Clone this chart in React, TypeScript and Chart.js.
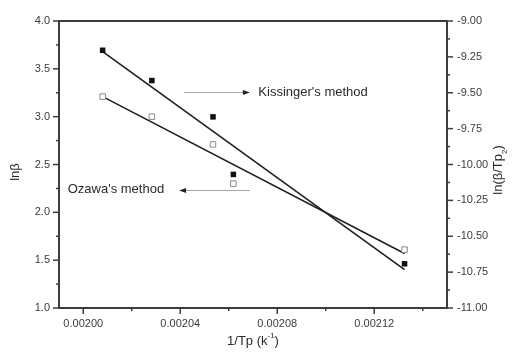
import { useEffect, useRef } from "react";
import { Chart, registerables } from "chart.js";

Chart.register(...registerables);

// 1/Tp values (K^-1) for the five heating rates
const invTp = [0.002008, 0.0020283, 0.0020535, 0.0020619, 0.0021325];
// Ozawa: ln(beta), left axis
const lnBeta = [3.21, 3.0, 2.71, 2.3, 1.61];
// Kissinger: ln(beta/Tp^2), right axis
const lnBetaTp2 = [-9.204, -9.415, -9.668, -10.069, -10.692];

// Axis ticks
const xTicks = [0.002, 0.00204, 0.00208, 0.00212];
const xMinorTicks = [0.00202, 0.00206, 0.0021, 0.00214];
const yLeftTicks = [1.0, 1.5, 2.0, 2.5, 3.0, 3.5, 4.0];
const yLeftMinorTicks = [1.25, 1.75, 2.25, 2.75, 3.25, 3.75];
const yRightTicks = [-11, -10.75, -10.5, -10.25, -10, -9.75, -9.5, -9.25, -9];
const yRightMinorTicks = [-10.875, -10.625, -10.375, -10.125, -9.875, -9.625, -9.375, -9.125];

// Annotation anchors in data units (x, left-axis y)
const kissingerArrow = { from: 0.0020415, to: 0.0020687, y: 3.258 };
const kissingerLabel = { x: 0.0020722, y: 3.25, text: "Kissinger's method" };
const ozawaArrow = { from: 0.0020687, to: 0.0020395, y: 2.232 };
const ozawaLabel = { x: 0.0019936, y: 2.24, text: "Ozawa's method" };

const FONT = '"Liberation Sans", Arial, Helvetica, sans-serif';
const AXIS_COLOR = "#3c3c3c";
const TEXT_COLOR = "#2a2a2a";

// Least-squares line through a series, evaluated at the first and last x
function fitLine(xs: number[], ys: number[]) {
  const n = xs.length;
  const mx = xs.reduce((a, b) => a + b, 0) / n;
  const my = ys.reduce((a, b) => a + b, 0) / n;
  let sxy = 0;
  let sxx = 0;
  for (let i = 0; i < n; i++) {
    sxy += (xs[i] - mx) * (ys[i] - my);
    sxx += (xs[i] - mx) * (xs[i] - mx);
  }
  const slope = sxy / sxx;
  const x0 = Math.min(...xs);
  const x1 = Math.max(...xs);
  return [
    { x: x0, y: my + slope * (x0 - mx) },
    { x: x1, y: my + slope * (x1 - mx) },
  ];
}

function arrowHead(ctx: CanvasRenderingContext2D, x: number, y: number, dir: number) {
  ctx.beginPath();
  ctx.moveTo(x, y);
  ctx.lineTo(x - dir * 7, y - 2.5);
  ctx.lineTo(x - dir * 7, y + 2.5);
  ctx.closePath();
  ctx.fill();
}

const decorPlugin = {
  id: "decor",
  afterDraw(chart: any) {
    const { ctx, chartArea: a, scales } = chart;
    const sx = scales.x;
    const yl = scales.y;
    const yr = scales.y1;
    ctx.save();

    // frame
    ctx.strokeStyle = AXIS_COLOR;
    ctx.lineWidth = 2;
    ctx.strokeRect(a.left, a.top, a.right - a.left, a.bottom - a.top);

    // tick marks (outward)
    ctx.lineWidth = 1.5;
    const tick = (x0: number, y0: number, x1: number, y1: number) => {
      ctx.beginPath();
      ctx.moveTo(x0, y0);
      ctx.lineTo(x1, y1);
      ctx.stroke();
    };
    xTicks.forEach((v) => { const p = sx.getPixelForValue(v); tick(p, a.bottom, p, a.bottom + 6); });
    xMinorTicks.forEach((v) => { const p = sx.getPixelForValue(v); tick(p, a.bottom, p, a.bottom + 3); });
    yLeftTicks.forEach((v) => { const p = yl.getPixelForValue(v); tick(a.left, p, a.left - 6, p); });
    yLeftMinorTicks.forEach((v) => { const p = yl.getPixelForValue(v); tick(a.left, p, a.left - 3, p); });
    yRightTicks.forEach((v) => { const p = yr.getPixelForValue(v); tick(a.right, p, a.right + 6, p); });
    yRightMinorTicks.forEach((v) => { const p = yr.getPixelForValue(v); tick(a.right, p, a.right + 3, p); });

    // annotation arrows
    ctx.strokeStyle = "#a8a8a8";
    ctx.fillStyle = "#222";
    ctx.lineWidth = 1;
    {
      const x0 = sx.getPixelForValue(kissingerArrow.from);
      const x1 = sx.getPixelForValue(kissingerArrow.to);
      const y = Math.round(yl.getPixelForValue(kissingerArrow.y)) + 0.5;
      tick(x0, y, x1 - 5, y);
      arrowHead(ctx, x1, y, 1);
    }
    {
      const x0 = sx.getPixelForValue(ozawaArrow.from);
      const x1 = sx.getPixelForValue(ozawaArrow.to);
      const y = Math.round(yl.getPixelForValue(ozawaArrow.y)) + 0.5;
      tick(x0, y, x1 + 5, y);
      arrowHead(ctx, x1, y, -1);
    }

    // annotation labels
    ctx.fillStyle = TEXT_COLOR;
    ctx.font = `13px ${FONT}`;
    ctx.textBaseline = "middle";
    ctx.textAlign = "left";
    ctx.fillText(kissingerLabel.text, sx.getPixelForValue(kissingerLabel.x), yl.getPixelForValue(kissingerLabel.y));
    ctx.fillText(ozawaLabel.text, sx.getPixelForValue(ozawaLabel.x), yl.getPixelForValue(ozawaLabel.y));

    // x axis title with superscript
    {
      const main = "1/Tp (k";
      const sup = "-1";
      const end = ")";
      ctx.font = `13px ${FONT}`;
      const w1 = ctx.measureText(main).width;
      const w3 = ctx.measureText(end).width;
      ctx.font = `8px ${FONT}`;
      const w2 = ctx.measureText(sup).width;
      const total = w1 + w2 + w3;
      const cx = (a.left + a.right) / 2;
      let x = cx - total / 2;
      const y = 341;
      ctx.textBaseline = "middle";
      ctx.font = `13px ${FONT}`;
      ctx.fillText(main, x, y);
      x += w1;
      ctx.font = `8px ${FONT}`;
      ctx.fillText(sup, x, y - 5);
      x += w2;
      ctx.font = `13px ${FONT}`;
      ctx.fillText(end, x, y);
    }

    // left axis title
    ctx.save();
    ctx.translate(15, 172);
    ctx.rotate(-Math.PI / 2);
    ctx.textAlign = "center";
    ctx.textBaseline = "middle";
    ctx.font = `13px ${FONT}`;
    ctx.fillText("lnβ", 0, 0);
    ctx.restore();

    // right axis title with superscript
    ctx.save();
    ctx.translate(498, 170);
    ctx.rotate(-Math.PI / 2);
    ctx.textBaseline = "middle";
    ctx.textAlign = "left";
    {
      const main = "ln(β/Tp";
      const sup = "2";
      const end = ")";
      ctx.font = `13px ${FONT}`;
      const w1 = ctx.measureText(main).width;
      const w3 = ctx.measureText(end).width;
      ctx.font = `8px ${FONT}`;
      const w2 = ctx.measureText(sup).width;
      let x = -(w1 + w2 + w3) / 2;
      ctx.font = `13px ${FONT}`;
      ctx.fillText(main, x, 0);
      x += w1;
      ctx.font = `8px ${FONT}`;
      ctx.fillText(sup, x, 7);
      x += w2;
      ctx.font = `13px ${FONT}`;
      ctx.fillText(end, x, 0);
    }
    ctx.restore();

    ctx.restore();
  },
};

export default function App() {
  const canvasRef = useRef<HTMLCanvasElement | null>(null);

  useEffect(() => {
    const canvas = canvasRef.current;
    if (!canvas) return;

    const ozawaPts = invTp.map((x, i) => ({ x, y: lnBeta[i] }));
    const kissingerPts = invTp.map((x, i) => ({ x, y: lnBetaTp2[i] }));

    const tickFont = { family: FONT, size: 11 };

    const chart = new Chart(canvas, {
      type: "scatter",
      data: {
        datasets: [
          {
            label: "Kissinger",
            data: kissingerPts,
            yAxisID: "y1",
            pointStyle: "rect",
            pointRadius: 3.9,
            backgroundColor: "#111",
            borderColor: "#111",
            borderWidth: 0,
          },
          {
            label: "Ozawa",
            data: ozawaPts,
            yAxisID: "y",
            pointStyle: "rect",
            pointRadius: 3.9,
            backgroundColor: "#fff",
            borderColor: "#8a8a8a",
            borderWidth: 1,
          },
          {
            label: "Kissinger fit",
            data: fitLine(invTp, lnBetaTp2),
            yAxisID: "y1",
            showLine: true,
            pointRadius: 0,
            borderColor: "#1e1e1e",
            borderWidth: 1.6,
          },
          {
            label: "Ozawa fit",
            data: fitLine(invTp, lnBeta),
            yAxisID: "y",
            showLine: true,
            pointRadius: 0,
            borderColor: "#1e1e1e",
            borderWidth: 1.6,
          },
        ],
      },
      options: {
        responsive: false,
        animation: false,
        devicePixelRatio: 1,
        layout: { padding: { top: 21, left: 0, right: 0, bottom: 0 } },
        plugins: {
          legend: { display: false },
          tooltip: { enabled: false },
        },
        scales: {
          x: {
            type: "linear",
            min: 0.00199,
            max: 0.00215,
            grid: { display: false },
            border: { display: false },
            afterBuildTicks: (s: any) => { s.ticks = xTicks.map((value) => ({ value })); },
            afterFit: (s: any) => { s.height = 48; },
            ticks: {
              font: tickFont,
              color: AXIS_COLOR,
              padding: 1,
              maxRotation: 0,
              callback: (v: any) => Number(v).toFixed(5),
            },
          },
          y: {
            type: "linear",
            position: "left",
            min: 1,
            max: 4,
            grid: { display: false },
            border: { display: false },
            afterBuildTicks: (s: any) => { s.ticks = yLeftTicks.map((value) => ({ value })); },
            afterFit: (s: any) => { s.width = 59; },
            ticks: {
              font: tickFont,
              color: AXIS_COLOR,
              padding: 1,
              callback: (v: any) => Number(v).toFixed(1),
            },
          },
          y1: {
            type: "linear",
            position: "right",
            min: -11,
            max: -9,
            grid: { display: false },
            border: { display: false },
            afterBuildTicks: (s: any) => { s.ticks = yRightTicks.map((value) => ({ value })); },
            afterFit: (s: any) => { s.width = 65; },
            ticks: {
              font: tickFont,
              color: AXIS_COLOR,
              padding: 2,
              callback: (v: any) => Number(v).toFixed(2),
            },
          },
        },
      },
      plugins: [decorPlugin],
    });

    return () => chart.destroy();
  }, []);

  return (
    <div style={{ position: "absolute", left: 0, top: 0, width: 512, height: 356, background: "#fff" }}>
      <canvas ref={canvasRef} width={512} height={356} style={{ display: "block", width: 512, height: 356 }} />
    </div>
  );
}
